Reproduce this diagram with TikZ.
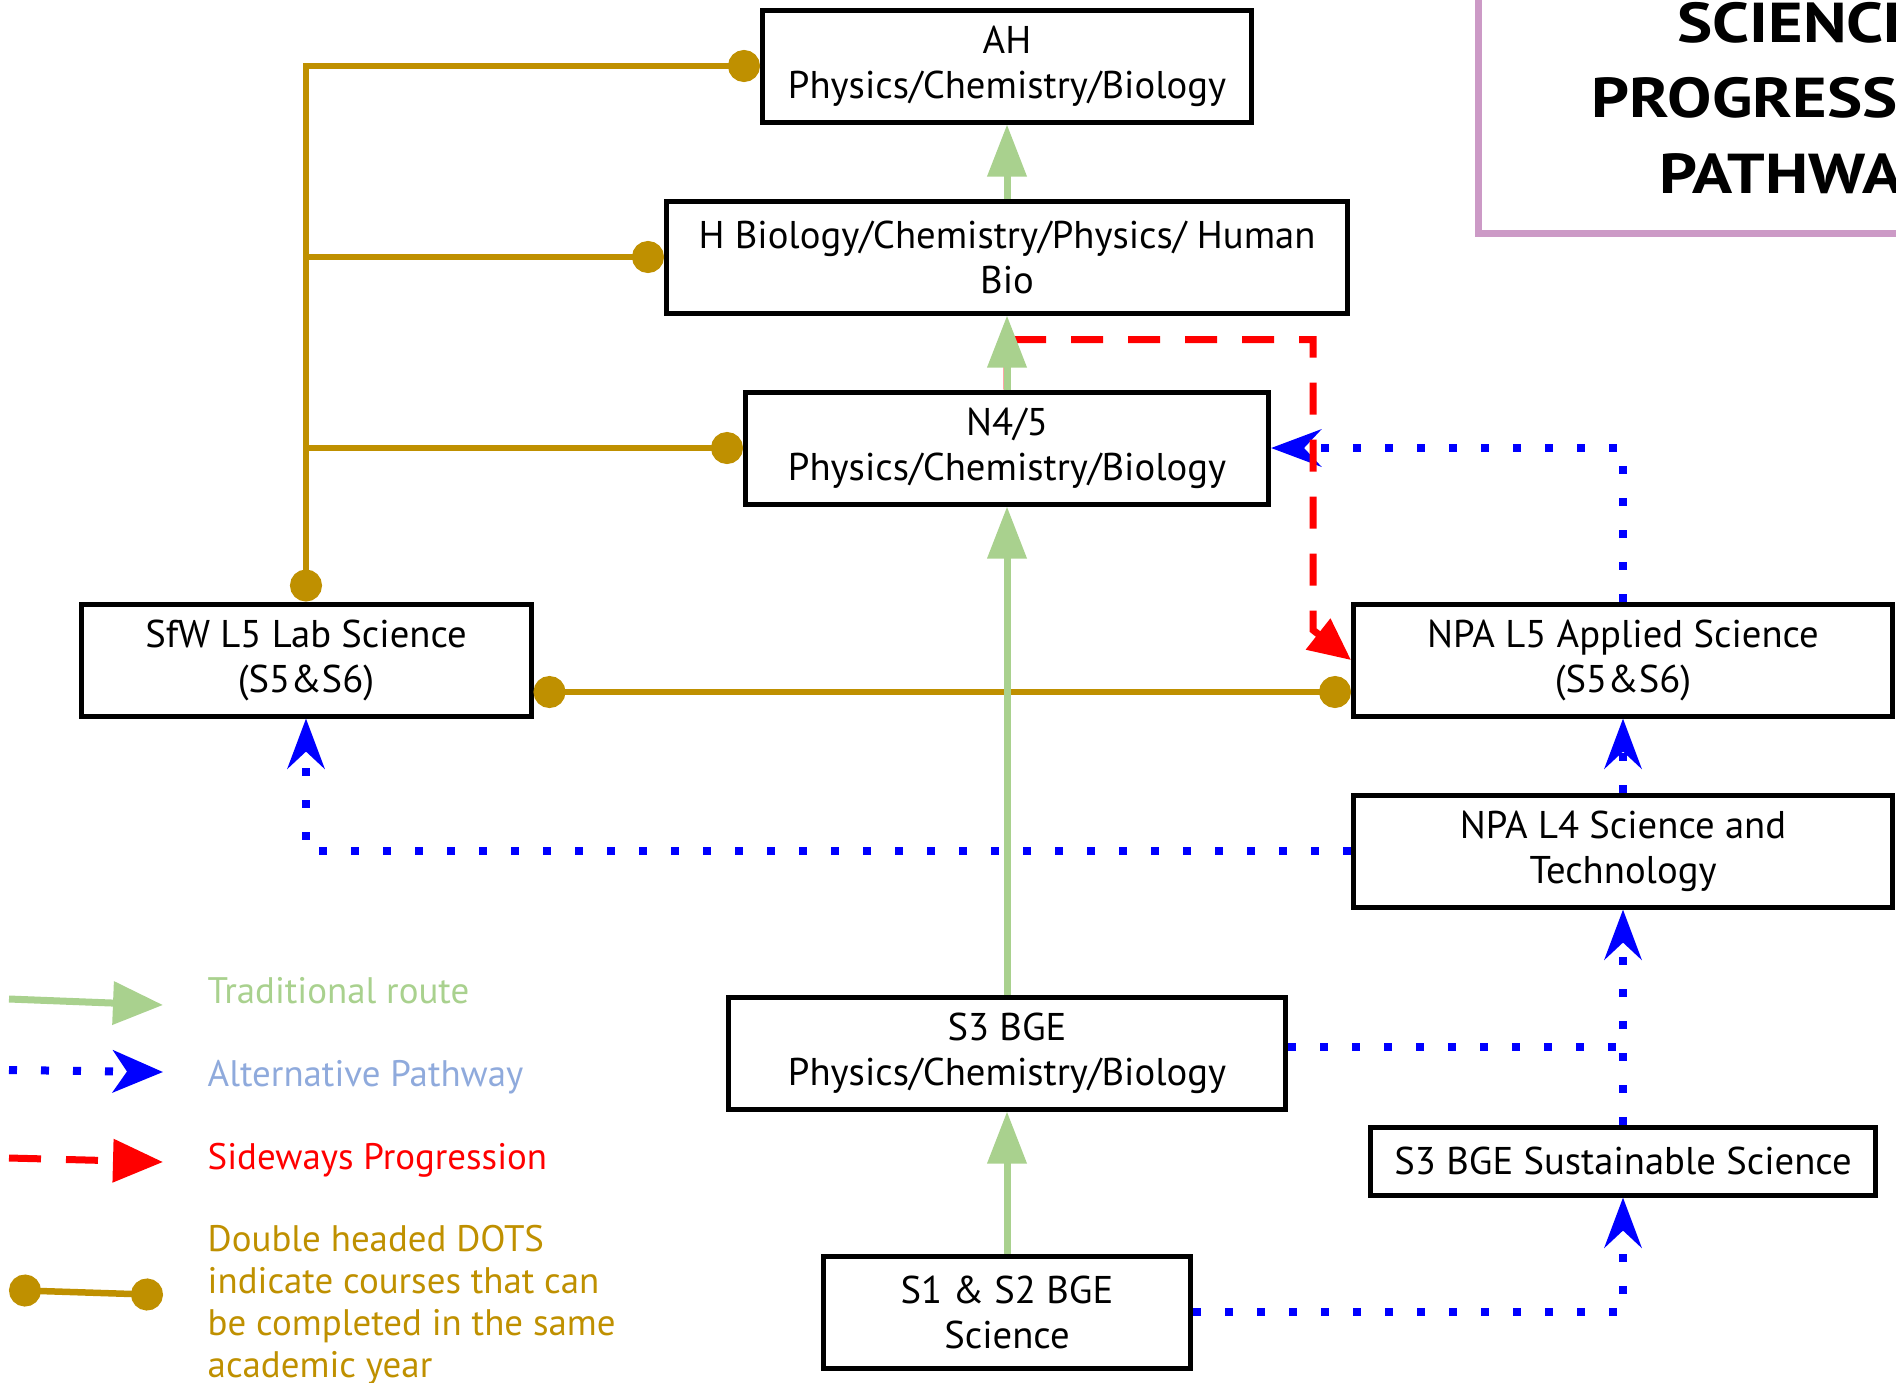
\documentclass[tikz,border=0pt]{standalone}
\usepackage{fontspec}
\setmainfont{PT Sans}
\newfontfamily\titlefont[FakeStretch=1.18]{PT Sans}
\usetikzlibrary{positioning,arrows.meta,calc}

\definecolor{routegreen}{HTML}{A9D18E}
\definecolor{altblue}{HTML}{0000FF}
\definecolor{altlabel}{HTML}{8FAADC}
\definecolor{sidered}{HTML}{FF0000}
\definecolor{dotgold}{HTML}{BF9000}
\definecolor{titlepink}{HTML}{CC9AC6}

\tikzset{
  course/.style={draw, line width=0.05cm, minimum height=1.12cm, inner sep=0pt,
    align=center, font=\fontsize{11}{12.8}\selectfont},
  traditional/.style={color=routegreen, line width=0.07cm,
    -{Triangle[length=0.52cm,width=0.38cm]}},
  alternative/.style={color=altblue, line width=0.08cm, dash pattern=on 0.08cm off 0.24cm},
  alttip/.style={-{Stealth[length=0.5cm,width=0.37cm,inset=0.17cm]}},
  sideways/.style={color=sidered, line width=0.07cm, dash pattern=on 0.32cm off 0.25cm,
    -{Triangle[length=0.42cm,width=0.38cm]}},
  goldline/.style={color=dotgold, line width=0.065cm},
  dotend/.style={-{Circle[length=0.32cm]}},
  dotboth/.style={{Circle[length=0.32cm]}-{Circle[length=0.32cm]}},
  legendtext/.style={anchor=base west, inner sep=0pt, align=left,
    font=\fontsize{10.5}{11.9}\selectfont},
}

\begin{document}
\begin{tikzpicture}[node distance=2cm, on grid]
   \useasboundingbox (0,0) rectangle (18.96,-13.82);
   \clip (0,0) rectangle (18.96,-13.82);

   % title
   \node[draw=titlepink, line width=0.07cm, minimum width=6.4cm, minimum height=2.7cm,
     align=center, font=\titlefont\fontsize{16}{21.5}\selectfont\bfseries] (title) at (17.98,-0.98)
     {SCIENCE\\PROGRESSION\\PATHWAY};

   % courses
   \node[course, minimum width=4.89cm] (ah) at (10.07,-0.66) {AH\\Physics/Chemistry/Biology};
   \node[course, minimum width=6.81cm] (h) [below=1.91cm of ah] {H Biology/Chemistry/Physics/ Human\\Bio};
   \node[course, minimum width=5.23cm] (n45) [below=1.91cm of h] {N4/5\\Physics/Chemistry/Biology};
   \node[course, minimum width=5.57cm] (s3) [below=6.05cm of n45] {S3 BGE\\Physics/Chemistry/Biology};
   \node[course, minimum width=3.67cm] (s12) [below=2.59cm of s3] {S1 \& S2 BGE\\Science};
   \node[course, minimum width=4.50cm] (sfw) [below left=2.12cm and 7.01cm of n45] {SfW L5 Lab Science\\(S5\&S6)};
   \node[course, minimum width=5.39cm] (npa5) [below right=2.12cm and 6.16cm of n45] {NPA L5 Applied Science\\(S5\&S6)};
   \node[course, minimum width=5.39cm] (npa4) [below=1.91cm of npa5] {NPA L4 Science and\\Technology};
   \node[course, minimum width=5.05cm, minimum height=0.68cm] (sust) [below=3.10cm of npa4] {S3 BGE Sustainable Science};

   % same academic year
   \draw[goldline, dotboth] (sfw.north) |- (ah.west);
   \draw[goldline, dotend] (sfw.north |- h.west) -- (h.west);
   \draw[goldline, dotend] (sfw.north |- n45.west) -- (n45.west);
   \draw[goldline, dotboth] ($(sfw.east)+(0,-0.32)$) -- ($(npa5.west)+(0,-0.32)$);

   % alternative pathway
   \draw[alternative, alttip] (npa4.west) -| (sfw.south);
   \draw[alternative, alttip] (npa4.north) -- (npa5.south);
   \draw[alternative, alttip] (npa5.north) |- (n45.east);
   \draw[alternative] ($(s3.east)+(0,0.06)$) -- ($(s3.east -| npa4.south)+(0,0.06)$);
   \draw[alternative, alttip] (sust.north) -- (npa4.south);
   \draw[alternative, alttip] (s12.east) -| (sust.south);

   % sideways progression
   \coordinate (rc) at ($(n45.north)+(3.06,0.5)$);
   \draw[sideways] (n45.north) |- (rc) -- ($(rc |- npa5.west)+(0,0.3)$) -- (npa5.west);

   % traditional route
   \path[traditional]
    (s12) edge (s3)
    (s3)  edge (n45)
    (n45) edge (h)
    (h)   edge (ah);

   % legend
   \coordinate (la1) at (0.09,-9.99);  \coordinate (la2) at (1.63,-10.05);
   \coordinate (lb1) at (0.09,-10.70); \coordinate (lb2) at (1.63,-10.72);
   \coordinate (lc1) at (0.09,-11.58); \coordinate (lc2) at (1.63,-11.62);
   \coordinate (ld1) at (0.09,-12.90); \coordinate (ld2) at (1.63,-12.95);
   \draw[traditional, -{Triangle[length=0.5cm,width=0.42cm]}] (la1) -- (la2);
   \draw[alternative, -{Stealth[length=0.5cm,width=0.42cm,inset=0.14cm]}] (lb1) -- (lb2);
   \draw[sideways, -{Triangle[length=0.5cm,width=0.42cm]}] (lc1) -- (lc2);
   \draw[goldline, dotboth] (ld1) -- (ld2);

   \node[legendtext, text=routegreen] (ltrad) at (2.07,-10.03) {Traditional route};
   \node[legendtext, text=altlabel] (lalt) at (2.07,-10.86) {Alternative Pathway};
   \node[legendtext, text=sidered] (lside) at (2.07,-11.69) {Sideways Progression};
   \node[legendtext, text=dotgold] (ldots) at (2.07,-13.77)
     {Double headed DOTS\\indicate courses that can\\be completed in the same\\academic year};
\end{tikzpicture}
\end{document}
